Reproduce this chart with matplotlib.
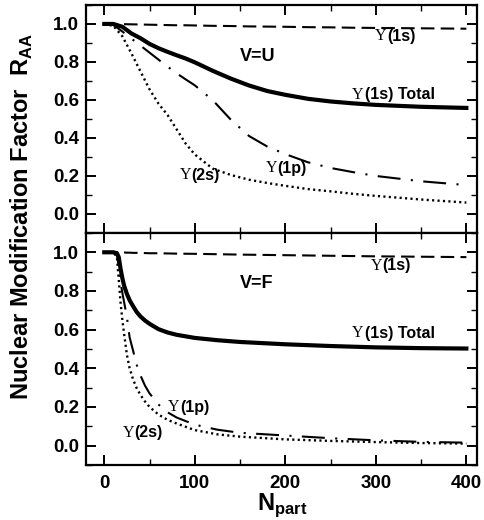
import matplotlib
matplotlib.use("Agg")
import matplotlib.pyplot as plt
from matplotlib.ticker import MultipleLocator, FormatStrFormatter

plt.rcParams['font.family'] = ['Liberation Sans', 'DejaVu Sans']
plt.rcParams['font.weight'] = 'bold'
plt.rcParams['mathtext.fontset'] = 'custom'
plt.rcParams['mathtext.rm'] = 'Liberation Sans:bold'
plt.rcParams['mathtext.sf'] = 'Liberation Sans:bold'
plt.rcParams['mathtext.bf'] = 'Liberation Sans:bold'

# ---------------- data: V=U (top panel) ----------------
npart_u = [0, 10, 20, 30, 40, 50, 60, 70, 80, 90, 100, 120, 140, 160, 180,
           200, 225, 250, 275, 300, 350, 400]
u_1s = [1.0, 1.0, 0.999, 0.998, 0.997, 0.996, 0.995, 0.994, 0.993, 0.993, 0.992,
        0.990, 0.989, 0.987, 0.986, 0.985, 0.983, 0.982, 0.980, 0.979, 0.977, 0.975]
u_total = [1.0, 1.0, 0.985, 0.95, 0.925, 0.895, 0.872, 0.853, 0.835, 0.818, 0.798,
           0.753, 0.712, 0.676, 0.647, 0.627, 0.606, 0.592, 0.582, 0.574, 0.564, 0.558]
u_1p = [1.0, 0.995, 0.96, 0.923, 0.886, 0.849, 0.812, 0.775, 0.740, 0.708, 0.677,
        0.598, 0.495, 0.410, 0.355, 0.315, 0.272, 0.242, 0.22, 0.2, 0.172, 0.152]
u_2s = [1.0, 0.99, 0.935, 0.845, 0.75, 0.656, 0.58, 0.52, 0.445, 0.37, 0.313,
        0.238, 0.205, 0.18, 0.163, 0.148, 0.131, 0.119, 0.106, 0.095, 0.076, 0.06]

# ---------------- data: V=F (bottom panel) ----------------
npart_f = [0, 10, 14, 16, 18, 20, 22, 25, 28, 32, 36, 40, 45, 50, 60, 70, 80,
           100, 125, 150, 200, 250, 300, 350, 400]
f_1s = [1.0, 1.0, 1.0, 1.0, 0.999, 0.999, 0.999, 0.998, 0.998, 0.997, 0.997, 0.996,
        0.996, 0.995, 0.995, 0.994, 0.993, 0.992, 0.990, 0.988, 0.985, 0.982, 0.979,
        0.977, 0.975]
f_total = [1.0, 1.0, 0.995, 0.975, 0.915, 0.866, 0.826, 0.785, 0.752, 0.72, 0.69,
           0.668, 0.647, 0.63, 0.602, 0.585, 0.573, 0.557, 0.545, 0.536, 0.524,
           0.515, 0.508, 0.504, 0.502]
f_1p = [1.0, 1.0, 0.985, 0.93, 0.845, 0.79, 0.74, 0.665, 0.56, 0.488, 0.415, 0.363,
        0.31, 0.27, 0.212, 0.172, 0.145, 0.108, 0.082, 0.066, 0.052, 0.038, 0.027,
        0.019, 0.015]
f_2s = [1.0, 1.0, 0.975, 0.86, 0.74, 0.65, 0.575, 0.47, 0.4, 0.34, 0.295, 0.262,
        0.228, 0.2, 0.16, 0.133, 0.114, 0.08, 0.058, 0.046, 0.032, 0.024, 0.018,
        0.013, 0.01]

x_ticks = [0, 100, 200, 300, 400]
y_ticks = [0.0, 0.2, 0.4, 0.6, 0.8, 1.0]

fig = plt.figure(figsize=(4.84, 5.2), dpi=100)
ax1 = fig.add_axes([0.178, 0.552, 0.808, 0.4385])
ax2 = fig.add_axes([0.178, 0.106, 0.808, 0.446])

def style(ax, show_x):
    ax.set_xlim(-20, 412)
    ax.set_ylim(-0.1, 1.1)
    ax.set_xticks(x_ticks)
    ax.set_yticks(y_ticks)
    ax.xaxis.set_minor_locator(MultipleLocator(50))
    ax.yaxis.set_minor_locator(MultipleLocator(0.1))
    ax.yaxis.set_major_formatter(FormatStrFormatter('%.1f'))
    ax.tick_params(which='both', direction='in', top=True, right=True)
    ax.tick_params(which='major', length=7, width=1.4, labelsize=13.5, pad=5)
    ax.tick_params(which='minor', length=4.5, width=1.0)
    ax.tick_params(axis='x', which='major', pad=7)
    if not show_x:
        ax.tick_params(axis='x', labelbottom=False)
    for s in ax.spines.values():
        s.set_linewidth(1.6)

def curves(ax, n, c1s, tot, p1, s2):
    ax.plot(n, c1s, color='black', lw=1.5, linestyle=(0, (6.5, 3.0)))
    ax.plot(n, tot, color='black', lw=3.0, linestyle='-')
    ax.plot(n, p1, color='black', lw=1.5, linestyle=(0, (11, 5, 1, 5)))
    ax.plot(n, s2, color='black', lw=1.7, linestyle=(0, (0.9, 1.4)))

def ylab(ax, x, y, rest, size=11.5):
    t = ax.text(x, y, "\u03a5", fontsize=size, fontweight='normal',
                family='Liberation Serif', ha='left', va='center')
    ax.annotate(rest, xy=(1, 0.5), xycoords=t, xytext=(0.6, 0),
                textcoords='offset points', fontsize=size, fontweight='bold',
                ha='left', va='center')

style(ax1, False)
style(ax2, True)
curves(ax1, npart_u, u_1s, u_total, u_1p, u_2s)
curves(ax2, npart_f, f_1s, f_total, f_1p, f_2s)

ylab(ax1, 299, 0.935, "(1s)")
ax1.text(150, 0.83, "V=U", fontsize=13, fontweight='bold', ha='left', va='center')
ylab(ax1, 274, 0.628, "(1s) Total")
ylab(ax1, 178, 0.24, "(1p)")
ylab(ax1, 83, 0.205, "(2s)")

ylab(ax2, 294, 0.93, "(1s)")
ax2.text(150, 0.84, "V=F", fontsize=13, fontweight='bold', ha='left', va='center')
ylab(ax2, 274, 0.582, "(1s) Total")
ylab(ax2, 70, 0.198, "(1p)")
ylab(ax2, 20, 0.067, "(2s)")

ax2.set_xlabel(r"N$_{\mathsf{part}}$", fontsize=17, fontweight='bold', labelpad=0)
fig.text(0.045, 0.583, r"Nuclear Modification Factor  R$_{\mathsf{AA}}$",
         rotation=90, fontsize=17, fontweight='bold', ha='center', va='center')

fig.savefig("out.png", dpi=100)
